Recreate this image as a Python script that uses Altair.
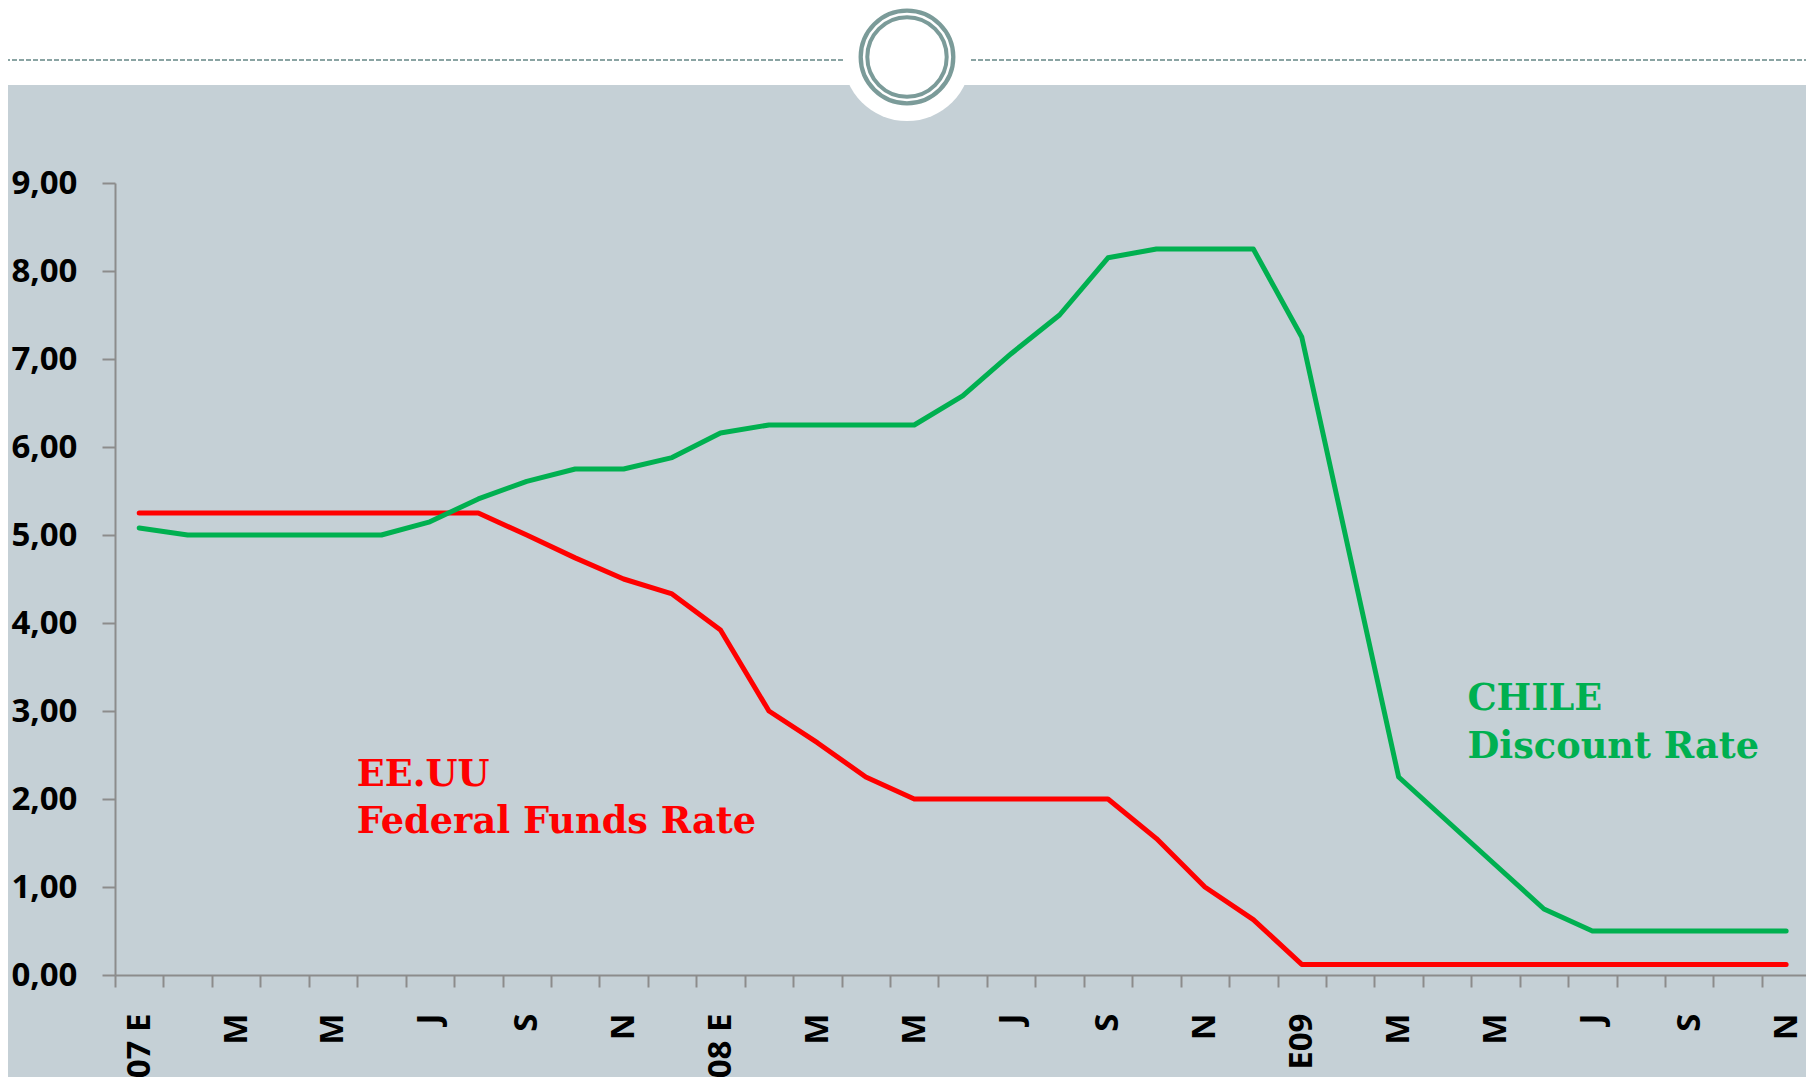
import json
import altair as alt
import pandas as pd

# ---------------- data ----------------
months = [
    "2007-01", "2007-02", "2007-03", "2007-04", "2007-05", "2007-06",
    "2007-07", "2007-08", "2007-09", "2007-10", "2007-11", "2007-12",
    "2008-01", "2008-02", "2008-03", "2008-04", "2008-05", "2008-06",
    "2008-07", "2008-08", "2008-09", "2008-10", "2008-11", "2008-12",
    "2009-01", "2009-02", "2009-03", "2009-04", "2009-05", "2009-06",
    "2009-07", "2009-08", "2009-09", "2009-10", "2009-11",
]
# label shown under every other month
x_tick_labels = ["07 E", "M", "M", "J", "S", "N",
                 "08 E", "M", "M", "J", "S", "N",
                 "E09", "M", "M", "J", "S", "N"]
y_ticks = [0, 1, 2, 3, 4, 5, 6, 7, 8, 9]

fed_funds = [5.25, 5.25, 5.25, 5.25, 5.25, 5.25, 5.25, 5.25, 5.00, 4.74, 4.50, 4.33,
             3.92, 3.00, 2.64, 2.25, 2.00, 2.00, 2.00, 2.00, 2.00, 1.55, 1.00, 0.63,
             0.12, 0.12, 0.12, 0.12, 0.12, 0.12, 0.12, 0.12, 0.12, 0.12, 0.12]
chile_rate = [5.08, 5.00, 5.00, 5.00, 5.00, 5.00, 5.15, 5.41, 5.61, 5.75, 5.75, 5.88,
              6.16, 6.25, 6.25, 6.25, 6.25, 6.58, 7.06, 7.50, 8.15, 8.25, 8.25, 8.25,
              7.25, 4.75, 2.25, 1.75, 1.25, 0.75, 0.50, 0.50, 0.50, 0.50, 0.50]

series_names = ["EE.UU", "CHILE"]
series_colors = ["#FF0000", "#00B050"]

fed_label = ["EE.UU", "Federal Funds Rate"]
chile_label = ["CHILE", "Discount Rate"]

# ---------------- table ----------------
rows = []
for i, m in enumerate(months):
    rows.append({"idx": i, "month": m, "series": "EE.UU", "rate": fed_funds[i]})
    rows.append({"idx": i, "month": m, "series": "CHILE", "rate": chile_rate[i]})
df = pd.DataFrame(rows)

# ---------------- styling ----------------
BG = "#C5D0D6"
AXIS_GRAY = "#8C8C8C"
RING = "#7B9B99"
PLOT_W, PLOT_H = 1691, 792

x_scale = alt.Scale(domain=[-0.5, 34.41], nice=False, zero=False)
y_scale = alt.Scale(domain=[0, 9], nice=False, zero=True)

label_js = json.dumps(x_tick_labels)
x_axis = alt.Axis(
    values=[k - 0.5 for k in range(36)],
    labelExpr=f"((datum.value + 0.5) % 2 == 0) ? {label_js}[(datum.value + 0.5) / 2] : ''",
    labelAngle=-90,
    labelOffset=24.2,
    labelFlush=False,
    labelOverlap=False,
    labelFont="Open Sans",
    labelFontSize=33,
    labelFontWeight="bold",
    labelColor="#000000",
    labelPadding=26,
    tickSize=12,
    tickWidth=2,
    tickColor=AXIS_GRAY,
    domainColor=AXIS_GRAY,
    domainWidth=2,
    grid=False,
    title=None,
)
y_axis = alt.Axis(
    values=y_ticks,
    labelExpr="replace(format(datum.value, '.2f'), '.', ',')",
    labelFont="Open Sans",
    labelFontSize=33,
    labelFontWeight="bold",
    labelColor="#000000",
    labelPadding=25,
    tickSize=13,
    tickWidth=2,
    tickColor=AXIS_GRAY,
    domainColor=AXIS_GRAY,
    domainWidth=2,
    grid=False,
    title=None,
)

one = pd.DataFrame({"d": [0]})

# decorative header: white band, dashed rule, white notch and double ring
# (Vega symbol size = (2r)^2 for circles)
band = alt.Chart(one).mark_rect(color="#FFFFFF").encode(
    x=alt.value(-110), x2=alt.value(1700), y=alt.value(-176), y2=alt.value(-98)
)
dash = alt.Chart(one).mark_rule(color="#8AA4A3", strokeWidth=2, strokeDash=[5, 2]).encode(
    x=alt.value(-110), x2=alt.value(1700), y=alt.value(-123)
)
notch = alt.Chart(one).mark_point(
    shape="circle", filled=True, color="#FFFFFF", opacity=1, size=(2 * 64) ** 2
).encode(x=alt.value(792), y=alt.value(-126))
ring_outer = alt.Chart(one).mark_point(
    shape="circle", filled=False, color=RING, opacity=1, strokeWidth=4.3,
    size=(2 * 46.3) ** 2
).encode(x=alt.value(792), y=alt.value(-126))
ring_inner = alt.Chart(one).mark_point(
    shape="circle", filled=False, color=RING, opacity=1, strokeWidth=4.0,
    size=(2 * 39.7) ** 2
).encode(x=alt.value(792), y=alt.value(-126))

lines = alt.Chart(df).mark_line(strokeWidth=5, strokeCap="round", strokeJoin="round").encode(
    x=alt.X("idx:Q", scale=x_scale, axis=x_axis),
    y=alt.Y("rate:Q", scale=y_scale, axis=y_axis),
    color=alt.Color("series:N", scale=alt.Scale(domain=series_names, range=series_colors), legend=None),
    order="idx:Q",
)


def ann(text, xv, yv, color):
    return alt.Chart(one).mark_text(
        text=text, font="DejaVu Serif", fontSize=36.7, fontWeight="bold",
        color=color, align="left", baseline="alphabetic"
    ).encode(x=alt.datum(xv), y=alt.datum(yv))


texts = [
    ann(fed_label[0], 4.49, 2.151, series_colors[0]),
    ann(fed_label[1], 4.49, 1.617, series_colors[0]),
    ann(chile_label[0], 27.42, 3.011, series_colors[1]),
    ann(chile_label[1], 27.42, 2.466, series_colors[1]),
]

chart = alt.layer(
    band, dash, notch, ring_outer, ring_inner, lines, *texts
).properties(
    width=PLOT_W,
    height=PLOT_H,
    padding={"left": 107, "top": 175, "right": 0, "bottom": 102},
    autosize=alt.AutoSizeParams(type="none"),
    background=BG,
).configure_view(strokeWidth=0)

chart.save("out.html", embed_options={"renderer": "svg", "actions": False})
